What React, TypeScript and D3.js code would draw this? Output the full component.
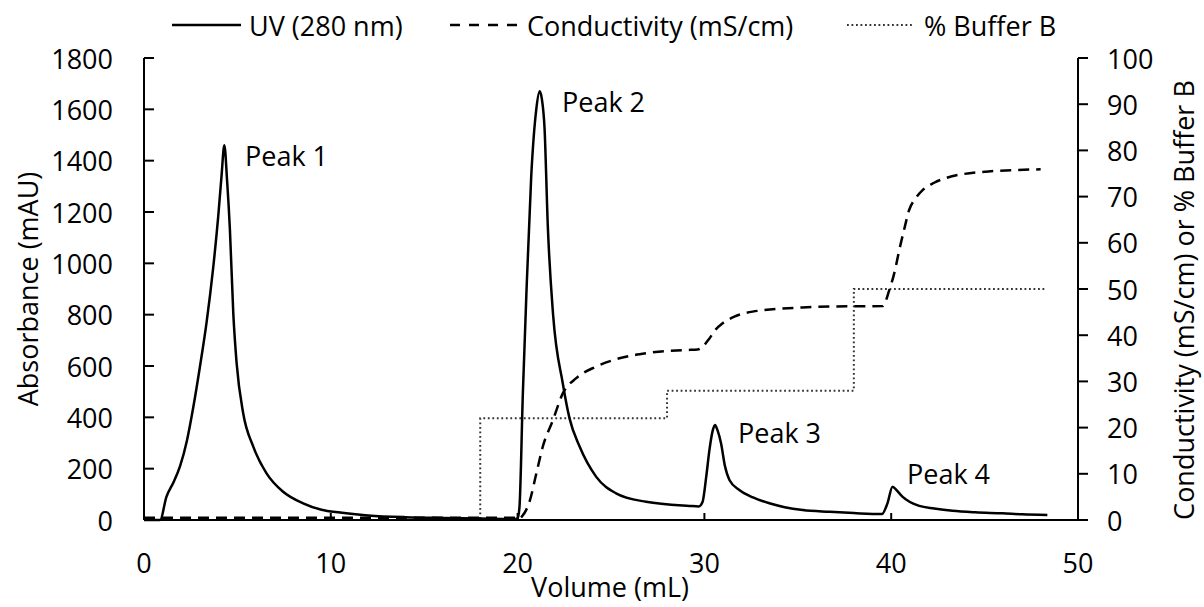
import React from "react";
import * as d3 from "d3";

// UV (280 nm) trace: volume (mL) and absorbance (mAU)
const uvVolume = [0, 0.86, 1.2, 1.6, 1.93, 2.3, 2.64, 3.0, 3.35, 3.7, 3.97, 4.15, 4.3, 4.45, 4.6, 4.78, 4.96, 5.31, 5.85, 6.56, 7.45, 8.52, 9.5, 10.5, 12, 14, 16, 18, 19.9, 20.0, 20.1, 20.28, 20.47, 20.73, 21.0, 21.18, 21.3, 21.44, 21.62, 21.9, 22.42, 22.78, 23.32, 24.2, 25.27, 26.88, 29.2, 29.7, 29.9, 30.1, 30.27, 30.45, 30.57, 30.7, 30.89, 31.1, 31.34, 31.87, 32.6, 33.48, 34.3, 35.26, 36.7, 38.0, 39.5, 39.8, 40.07, 40.3, 40.6, 41.0, 41.5, 42.3, 43.28, 44.5, 45.95, 47.0, 48.36];
const uvAbs = [0, 0, 90, 150, 210, 310, 440, 600, 770, 980, 1180, 1340, 1460, 1320, 1130, 805, 610, 416, 286, 182, 110, 65, 40, 29, 18, 11, 8, 6, 4, 6, 50, 490, 880, 1340, 1600, 1670, 1640, 1530, 1140, 800, 532, 396, 286, 169, 104, 71, 55, 53, 70, 170, 273, 350, 370, 350, 299, 210, 156, 117, 88, 65, 50, 39, 32, 27, 23, 65, 130, 115, 91, 70, 55, 45, 36, 30, 26, 22, 19];

// Conductivity (mS/cm)
const condVolume = [0, 19.9, 20.1, 20.2, 20.64, 21.0, 21.35, 21.89, 22.42, 23.14, 24.2, 25.45, 26.88, 29.02, 29.64, 29.9, 30.27, 30.6, 30.98, 31.6, 32.58, 35.26, 36.68, 39.54, 39.9, 40.2, 40.43, 40.7, 40.96, 41.3, 41.68, 42.3, 42.92, 45.06, 48.0];
const condValue = [0.5, 0.5, 0.2, 0.6, 4, 10, 15.9, 21.6, 27.4, 30.7, 33.2, 35, 36.1, 36.8, 36.9, 37.5, 39.3, 41.2, 42.6, 44, 45.1, 46.0, 46.2, 46.3, 49.8, 54, 58.4, 63, 67.1, 69.6, 71.4, 73, 74, 75.4, 75.9];

// % Buffer B (step gradient)
const bufVolume = [0, 18, 28, 38, 48.2];
const bufValue = [0, 22, 28, 50, 50];

const xTicks = [0, 10, 20, 30, 40, 50];
const yLeftTicks = [0, 200, 400, 600, 800, 1000, 1200, 1400, 1600, 1800];
const yRightTicks = [0, 10, 20, 30, 40, 50, 60, 70, 80, 90, 100];

const peakLabels = ["Peak 1", "Peak 2", "Peak 3", "Peak 4"];

const FONT = "'Open Sans', sans-serif";
const FS = 27;

export default function App() {
  const W = 1204, H = 607;
  const left = 144, right = 1078, top = 58, bottom = 520;
  const x = d3.scaleLinear().domain([0, 50]).range([left, right]);
  const yL = d3.scaleLinear().domain([0, 1800]).range([bottom, top]);
  const yR = d3.scaleLinear().domain([0, 100]).range([bottom, top]);

  const uvLine = d3.line<number>()
    .x((_, i) => x(uvVolume[i]))
    .y((_, i) => yL(uvAbs[i]))
    .curve(d3.curveMonotoneX);
  const condLine = d3.line<number>()
    .x((_, i) => x(condVolume[i]))
    .y((_, i) => yR(condValue[i]))
    .curve(d3.curveMonotoneX);
  const bufLine = d3.line<number>()
    .x((_, i) => x(bufVolume[i]))
    .y((_, i) => yR(bufValue[i]))
    .curve(d3.curveStepAfter);

  const peakPos = [
    { x: 245, y: 155 },
    { x: 562, y: 101 },
    { x: 738, y: 432 },
    { x: 907, y: 473 },
  ];

  return (
    <svg width={W} height={H} style={{ position: "absolute", left: 0, top: 0, display: "block", background: "#fff" }} fontFamily={FONT}>
      <rect width={W} height={H} fill="#fff" />
      {/* Legend */}
      <g fontSize={FS} fill="#000">
        <line x1={172} x2={241} y1={25} y2={25} stroke="#000" strokeWidth={2.5} />
        <text x={249} y={25} dominantBaseline="central">UV (280 nm)</text>
        <line x1={450} x2={517} y1={25} y2={25} stroke="#000" strokeWidth={2.5} strokeDasharray="10,9" />
        <text x={527} y={25} dominantBaseline="central">Conductivity (mS/cm)</text>
        <line x1={847} x2={913} y1={25} y2={25} stroke="#333" strokeWidth={2} strokeDasharray="1.8,2.7" />
        <text x={924} y={25} dominantBaseline="central">% Buffer B</text>
      </g>

      {/* Series */}
      <path d={bufLine(bufVolume) || ""} fill="none" stroke="#333" strokeWidth={2} strokeDasharray="1.8,2.7" />
      <path d={condLine(condVolume) || ""} fill="none" stroke="#000" strokeWidth={2.5} strokeDasharray="11,7" />
      <path d={uvLine(uvVolume) || ""} fill="none" stroke="#000" strokeWidth={2.5} strokeLinejoin="round" />

      {/* Axes */}
      <g stroke="#000" strokeWidth={2}>
        <line x1={left} x2={left} y1={top} y2={bottom} />
        <line x1={right} x2={right} y1={top} y2={bottom} />
        <line x1={left} x2={right} y1={bottom} y2={bottom} />
        {yLeftTicks.map((t) => (
          <line key={"yl" + t} x1={left} x2={left + 10} y1={yL(t)} y2={yL(t)} />
        ))}
        {yRightTicks.map((t) => (
          <line key={"yr" + t} x1={right} x2={right + 10} y1={yR(t)} y2={yR(t)} />
        ))}
        {xTicks.map((t) => (
          <line key={"x" + t} x1={x(t)} x2={x(t)} y1={bottom} y2={bottom - 7} />
        ))}
      </g>
      <g fontSize={FS} fill="#000">
        {yLeftTicks.map((t) => (
          <text key={"ylt" + t} x={113} y={yL(t)} textAnchor="end" dominantBaseline="central">{t}</text>
        ))}
        {yRightTicks.map((t) => (
          <text key={"yrt" + t} x={1107} y={yR(t)} textAnchor="start" dominantBaseline="central">{t}</text>
        ))}
        {xTicks.map((t) => (
          <text key={"xt" + t} x={x(t)} y={562} textAnchor="middle" dominantBaseline="central">{t}</text>
        ))}
        <text x={610} y={586} textAnchor="middle" dominantBaseline="central">Volume (mL)</text>
        <text transform={`translate(27,${(top + bottom) / 2}) rotate(-90)`} textAnchor="middle" dominantBaseline="central">Absorbance (mAU)</text>
        <text transform={`translate(1183,300) rotate(-90)`} textAnchor="middle" dominantBaseline="central">Conductivity (mS/cm) or % Buffer B</text>
        {peakLabels.map((p, i) => (
          <text key={p} x={peakPos[i].x} y={peakPos[i].y} dominantBaseline="central">{p}</text>
        ))}
      </g>
    </svg>
  );
}
